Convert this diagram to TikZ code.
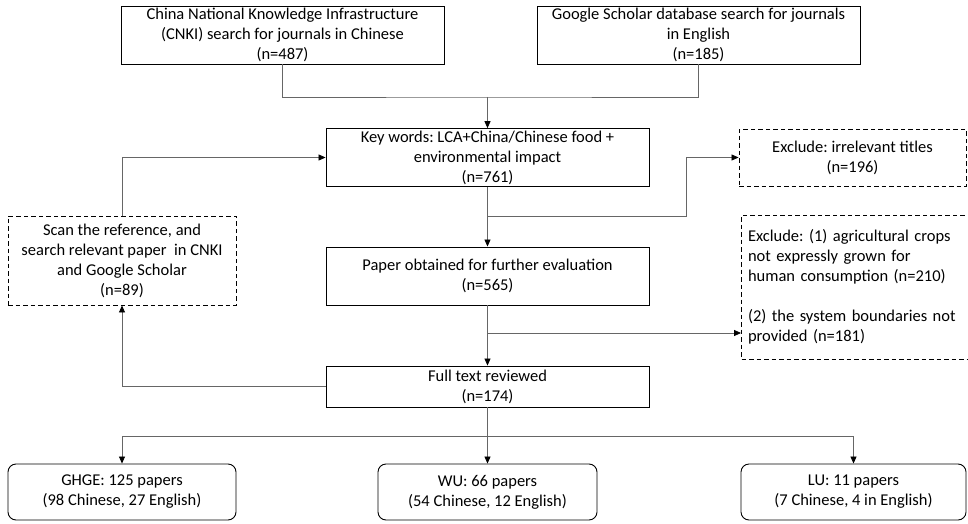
\documentclass[tikz,border=0pt]{standalone}
\usepackage{fontspec}
\setmainfont{Carlito}
\usetikzlibrary{arrows.meta,calc}
\frenchspacing
\begin{document}
\begin{tikzpicture}[x=1pt,y=-1pt,
  box/.style={draw=black,line width=0.9pt,align=center,inner sep=2pt,font=\fontsize{16.5}{20}\selectfont\frenchspacing},
  dbox/.style={box,dash pattern=on 4.5pt off 3pt},
  rbox/.style={box,rounded corners=8pt},
  conn/.style={draw=black!60,line width=0.8pt},
  arr/.style={conn,-{Triangle[width=6pt,length=7pt,fill=black,color=black]}}]
\useasboundingbox (0,0) rectangle (968,524);
\node[box,minimum width=323pt,minimum height=58pt] (cnki) at (282.5,35)
  {China National Knowledge Infrastructure\\(CNKI) search for journals in Chinese\\(n=487)};
\node[box,minimum width=323pt,minimum height=58pt] (google) at (698.5,35)
  {Google Scholar database search for journals\\in English\\(n=185)};
\node[box,minimum width=323pt,minimum height=57pt] (key) at (487.5,157.5)
  {Key words: LCA+China/Chinese food +\\environmental impact\\(n=761)};
\node[dbox,minimum width=227pt,minimum height=57pt] (excl1) at (852.5,157.5)
  {Exclude: irrelevant titles\\(n=196)};
\node[box,minimum width=323pt,minimum height=58pt] (paper) at (487.5,276)
  {Paper obtained for further evaluation\\(n=565)};
\node[dbox,minimum width=227pt,minimum height=144pt,text width=214pt,align=left] (excl2) at (855,287)
  {Exclude: (1) agricultural crops\\not expressly grown for\\human consumption (n=210)\\[20pt](2) the system boundaries not\\provided (n=181)};
\node[box,minimum width=323pt,minimum height=41pt] (full) at (487.5,386.5)
  {Full text reviewed\\(n=174)};
\node[dbox,minimum width=228pt,minimum height=89pt] (scan) at (122,260.5)
  {Scan the reference, and\\search relevant paper\ \ in CNKI\\and Google Scholar\\(n=89)};
\node[rbox,minimum width=228pt,minimum height=56pt] (ghge) at (122,492)
  {GHGE: 125 papers\\(98 Chinese, 27 English)};
\node[rbox,minimum width=219pt,minimum height=56pt] (wu) at (487.5,492)
  {WU: 66 papers\\(54 Chinese, 12 English)};
\node[rbox,minimum width=225pt,minimum height=56pt] (lu) at (853.5,492)
  {LU: 11 papers\\(7 Chinese, 4 in English)};
\coordinate (m) at (487.5,97);
\coordinate (b1) at (487.5,216);
\coordinate (j1) at (686,216);
\coordinate (b2) at (487.5,333);
\coordinate (bl) at (487.5,436);
\draw[conn] (cnki.south) |- (m) -| (google.south);
\draw[arr] (m) -- (key.north);
\draw[arr] (key.south) -- (paper.north);
\draw[arr] (b1) -- (j1) |- (excl1.west);
\draw[arr] (paper.south) -- (full.north);
\draw[arr] (b2) -- (b2 -| excl2.west);
\draw[arr] (full.west) -| (scan.south);
\draw[arr] (scan.north) |- (key.west);
\draw[conn] (full.south) -- (bl);
\draw[arr] (bl) -| (ghge.north);
\draw[arr] (bl) -- (wu.north);
\draw[arr] (bl) -| (lu.north);
\end{tikzpicture}
\end{document}
